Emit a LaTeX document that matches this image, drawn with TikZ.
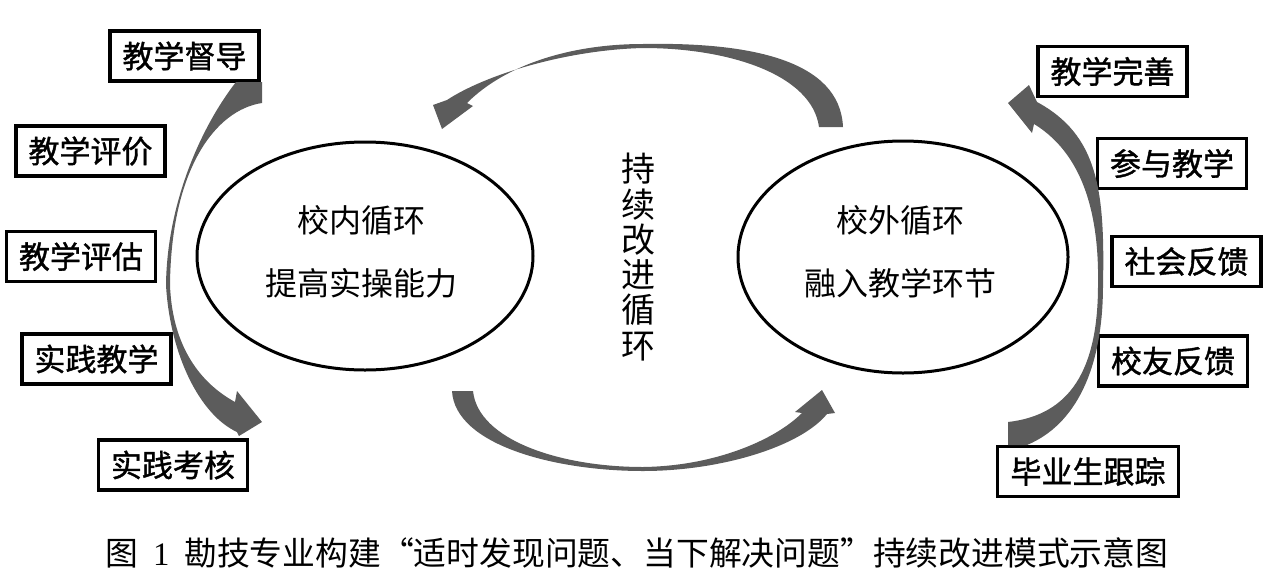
\documentclass[tikz,border=0pt]{standalone}
\usepackage{fontspec}
\setmainfont{Liberation Serif}
\newfontfamily\cjk{Noto Sans CJK SC}
\newfontfamily\cjkb[FakeBold=1.2]{Noto Sans CJK SC}
\usetikzlibrary{shapes.geometric}
\definecolor{arrowgray}{RGB}{92,92,92}
\tikzset{
  lbox/.style={draw=black, line width=3.5pt, minimum width=149pt, minimum height=50pt, inner sep=0pt,
    font=\cjkb\fontsize{31}{31}\selectfont},
  oval/.style={draw=black, line width=3pt, ellipse, inner sep=0pt},
  otext/.style={font=\cjk\fontsize{32}{32}\selectfont, inner sep=0pt},
  bigarrow/.style={fill=arrowgray, draw=none}
}
\begin{document}
\begin{tikzpicture}[x=1pt,y=-1pt]
\useasboundingbox (0,0) rectangle (1274,584);
% ellipses
\node[oval, minimum width=336pt, minimum height=228pt] (inner) at (365,256) {};
\node[oval, minimum width=330pt, minimum height=232pt] (outer) at (903,257) {};
\node[otext] (in1) at (361,220) {校内循环};
\node[otext] (in2) at (361,283) {提高实操能力};
\node[otext] (out1) at (900,220) {校外循环};
\node[otext] (out2) at (900,283) {融入教学环节};
% centre vertical text
\node[font=\cjk\fontsize{34}{35.3}\selectfont, align=center, inner sep=0pt] (mid) at (638,257) {持\\续\\改\\进\\循\\环};
% left boxes
\node[lbox] (b1) at (184.5,56) {教学督导};
\node[lbox] (b2) at (90.5,151) {教学评价};
\node[lbox] (b3) at (81,256.5) {教学评估};
\node[lbox] (b4) at (96.5,359) {实践教学};
\node[lbox] (b5) at (173,465) {实践考核};
% right boxes
\node[lbox] (r1) at (1112.5,71.5) {教学完善};
\node[lbox] (r2) at (1172,163.5) {参与教学};
\node[lbox] (r3) at (1186.5,261.5) {社会反馈};
\node[lbox] (r4) at (1173,361) {校友反馈};
\node[lbox, minimum width=181pt] (r5) at (1088,471.5) {毕业生跟踪};
% left arrow
\fill[bigarrow] (236,82) -- (262,82) -- (262,103)
  .. controls (215,110) and (171,170) .. (170,285)
  .. controls (172,340) and (195,380) .. (235,402)
  -- (237,391) -- (262,422) -- (239,436) -- (237,432)
  .. controls (200,415) and (170,355) .. (166,285)
  .. controls (167,203) and (201,127) .. (236,82) -- cycle;
% right arrow
\fill[bigarrow] (1008,445) -- (1027,445)
  .. controls (1075,425) and (1103,370) .. (1103,285)
  .. controls (1105,190) and (1098,135) .. (1037,102)
  -- (1029,85) -- (1008,103) -- (1032,133) -- (1034,124)
  .. controls (1090,158) and (1099,230) .. (1098,285)
  .. controls (1098,370) and (1070,415) .. (1008,422) -- cycle;
% top arrow
\fill[bigarrow] (819,127) -- (843,127)
  .. controls (840,60) and (750,42) .. (643,44)
  .. controls (570,44) and (505,65) .. (467,103)
  -- (473,106) -- (442,129) -- (433,105) -- (447,100)
  .. controls (485,75) and (565,50) .. (643,48)
  .. controls (730,48) and (812,75) .. (819,127) -- cycle;
% bottom arrow
\fill[bigarrow] (452,391) -- (473,391)
  .. controls (478,440) and (560,467) .. (643,467)
  .. controls (715,466) and (775,440) .. (802,413)
  -- (795,412) -- (822,390) -- (835,413) -- (827,414)
  .. controls (800,447) and (720,471) .. (643,471)
  .. controls (555,471) and (455,445) .. (452,391) -- cycle;
% caption
\node[font=\cjk\fontsize{32.8}{32.8}\selectfont, inner sep=0pt] (cap) at (637,553)
  {图\hspace{0.45em}\textrm{1}\hspace{0.45em}勘技专业构建“适时发现问题、当下解决问题”持续改进模式示意图};
\end{tikzpicture}
\end{document}
